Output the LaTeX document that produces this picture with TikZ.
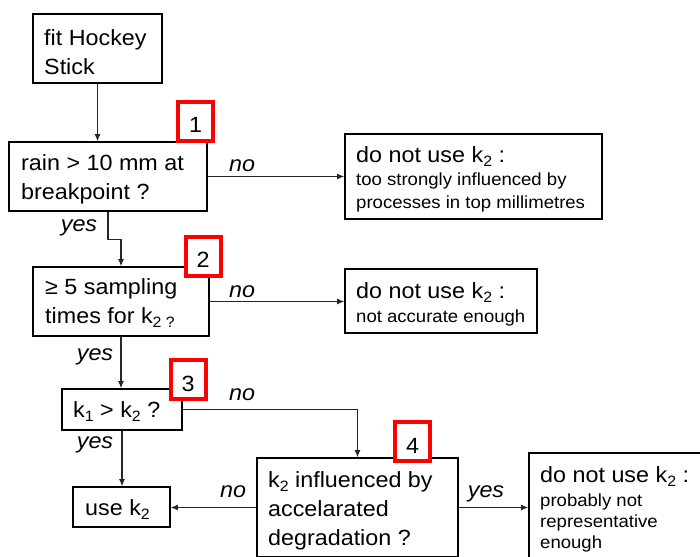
\documentclass[tikz,border=0pt]{standalone}
\usepackage{fontspec}
\setmainfont[FakeStretch=1.06]{Liberation Sans}
\usetikzlibrary{arrows.meta}
% lowered subscript as set in the flow chart
\newcommand\lsub[1]{\raisebox{-4pt}{\fontsize{15}{15}\selectfont #1}}
\newcommand\bigtxt{\fontsize{22}{29}\selectfont}
\newcommand\smalltxt{\fontsize{17.5}{23}\selectfont}
\tikzset{
  box/.style={draw, line width=1.6pt, inner sep=0pt},
  % multi-line texts: the base anchor sits on the last line
  txt/.style={anchor=base west, inner sep=0pt, align=left, font=\bigtxt},
  stxt/.style={anchor=base west, inner sep=0pt, align=left, font=\smalltxt},
  redbox/.style={draw=red, line width=4pt, fill=white, minimum width=35pt,
                 minimum height=39pt, inner sep=0pt, text height=23pt, text depth=0pt,
                 font=\fontsize{22}{22}\selectfont},
  conn/.style={line width=1.1pt, draw=black!85, -{Latex[length=7pt,width=6pt]}},
  lbl/.style={font=\fontsize{22}{22}\selectfont\itshape, anchor=base, inner sep=0pt}
}
\begin{document}
\begin{tikzpicture}[x=1pt,y=-1pt]
\fill[white] (0,0) rectangle (700,556);
\clip (0,0) rectangle (700,556);

% frames of the decision and action boxes
\node[box, minimum width=129pt, minimum height=69pt] (fit)  at (97.5,48.5) {};
\node[box, minimum width=198pt, minimum height=69pt] (rain) at (108,176.5) {};
\node[box, minimum width=257pt, minimum height=85pt] (dn1)  at (473.5,176.5) {};
\node[box, minimum width=176pt, minimum height=69pt] (samp) at (121,301.5) {};
\node[box, minimum width=192pt, minimum height=64pt] (dn2)  at (441,301) {};
\node[box, minimum width=120pt, minimum height=41pt] (kk)   at (122,409.5) {};
\node[box, minimum width=97pt,  minimum height=40pt] (use)  at (121.5,507) {};
\node[box, minimum width=201pt, minimum height=99pt] (infl) at (357.5,507.5) {};
\node[box, minimum width=190pt, minimum height=109pt] (dn3) at (624,507.5) {};

% box texts, placed at the baseline of their last line
\node[txt] (fit-t)  at (44,75)   {fit Hockey\\Stick};
\node[txt] (rain-t) at (21,199)  {rain > 10 mm at\\breakpoint ?};
\node[txt] (dn1-h)  at (356,162) {do not use k\lsub{2} :};
\node[stxt] (dn1-s) at (356,208) {too strongly influenced by\\processes in top millimetres};
\node[txt] (samp-t) at (45,323)  {≥ 5 sampling\\times for k\lsub{2 ?}};
\node[txt] (dn2-h)  at (356,298) {do not use k\lsub{2} :};
\node[stxt] (dn2-s) at (356,322) {not accurate enough};
\node[txt] (kk-t)   at (73,417)  {k\lsub{1} > k\lsub{2} ?};
\node[txt] (use-t)  at (85,515)  {use k\lsub{2}};
\node[txt] (infl-t) at (268,545) {k\lsub{2} influenced by\\accelarated\\degradation ?};
\node[txt] (dn3-h)  at (540,482) {do not use k\lsub{2} :};
\node[stxt, font=\fontsize{17.5}{21}\selectfont] (dn3-s) at (540,548)
  {probably not\\representative\\enough};

% connectors
\draw[conn] (fit.south) -- (fit.south |- rain.north);
\draw[conn] (rain.east) -- (rain.east -| dn1.west);
\draw[conn] (rain.south) -- ++(0,28) -| (samp.north);
\draw[conn] (samp.east) -- (samp.east -| dn2.west);
\draw[conn] (samp.south) -- (samp.south |- kk.north);
\draw[conn] (kk.east) -| (infl.north);
\draw[conn] (kk.south) -- (kk.south |- use.north);
\draw[conn] (infl.west) -- (infl.west -| use.east);
\draw[conn] (infl.east) -- (infl.east -| dn3.west);

% branch labels
\node[lbl] (n1) at (242,171) {no};
\node[lbl] (y1) at (79,231) {yes};
\node[lbl] (n2) at (242,297) {no};
\node[lbl] (y2) at (95,360) {yes};
\node[lbl] (n3) at (242,400) {no};
\node[lbl] (y3) at (95,448) {yes};
\node[lbl] (n4) at (233,497) {no};
\node[lbl] (y4) at (486,497) {yes};

% step numbers
\node[redbox] (r1) at (195.5,121.5) {1};
\node[redbox] (r2) at (203,256) {2};
\node[redbox] (r3) at (188,379.5) {3};
\node[redbox] (r4) at (412.5,441.5) {4};
\end{tikzpicture}
\end{document}
